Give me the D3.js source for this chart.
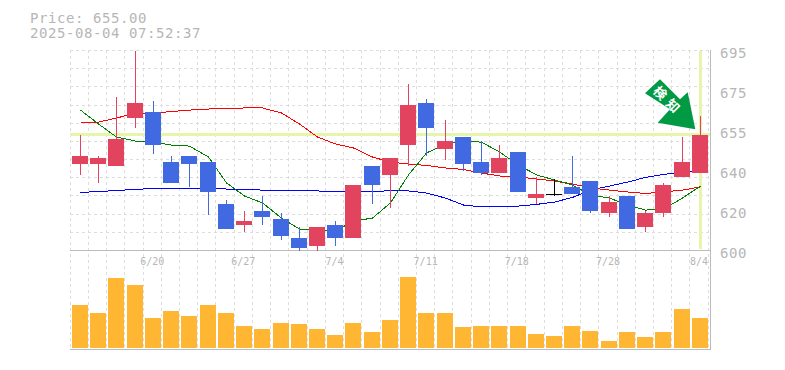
<!DOCTYPE html>
<html>
<head>
<meta charset="utf-8">
<script src="https://cdn.jsdelivr.net/npm/d3@7"></script>
<style>
body { margin: 0; background: #fff; }
svg { display: block; }
text { font-family: "DejaVu Sans Mono", monospace; fill: #b6b6b6; }
</style>
</head>
<body>
<script>
// data
const dates = ["6/16","6/17","6/18","6/19","6/20","6/23","6/24","6/25","6/26","6/27","6/30","7/1","7/2","7/3","7/4","7/7","7/8","7/9","7/10","7/11","7/14","7/15","7/16","7/17","7/18","7/22","7/23","7/24","7/25","7/28","7/29","7/30","7/31","8/1","8/4"];
const opens = [641,641,640,663,666,642,645,642,622,612,619,615,606,602,612,606,640,636,650,670,648,654,642,637,647,625,627,630,633,618,626,611,618,635,637];
const closes = [645,644,653,670,650,632,641,628,610,614,616,607,601,611,606,631,631,644,669,658,652,641,637,644,628,627,627,627,619,623,610,618,631,642,655];
const highs = [655,645,673,695,671,645,645,642,624,619,626,618,611,611,614,631,640,644,679,672,662,654,652,650,647,635,634,645,633,626,626,619,632,654,664];
const lows = [636,632,640,658,646,632,630,617,610,609,612,605,600,600,602,606,622,620,640,645,643,638,636,637,628,622,626,627,618,616,610,609,616,635,637];
const volumes = [4300,3500,7000,6300,3000,3700,3200,4300,3500,2200,1900,2500,2400,1900,1300,2500,1600,2800,7100,3500,3500,2100,2200,2200,2200,1400,1200,2200,1700,700,1600,1100,1600,3900,3000];
const maShort = [666.7,660.1,653.9,652.0,651.5,650.1,649.6,644.4,632.1,625.9,622.6,615.4,610.2,609.7,609.3,614.0,615.4,622.6,635.9,646.3,650.6,651.8,651.5,646.8,640.6,635.9,633.5,631.1,626.4,624.9,621.6,619.2,619.7,624.9,630.6];
const maMid = [661.0,661.0,662.9,665.3,665.3,666.0,666.7,667.2,667.5,667.7,667.7,665.3,660.1,653.9,650.6,648.7,644.4,642.0,641.1,640.4,639.2,638.5,636.8,635.4,634.9,634.0,633.0,631.6,629.7,628.7,627.8,627.1,627.8,628.7,630.2];
const maLong = [627.6,628.0,628.5,629.0,629.5,629.5,629.5,629.5,629.2,629.0,628.7,628.5,628.3,628.3,627.8,627.8,627.8,628.5,628.3,627.3,624.9,621.6,620.7,620.7,621.1,621.9,623.0,625.2,628.7,630.6,632.5,634.7,636.1,637.3,637.3];
const priceTicks = [600,619,638,657,676,695];
const priceLabels = ["600","620","640","655","675","695"];
const dateTicks = ["6/20","6/27","7/4","7/11","7/18","7/28","8/4"];
const lastPrice = 655;
const headerLines = ["Price: 655.00","2025-08-04 07:52:37"];

const svg = d3.select("body").append("svg")
  .attr("width", 785)
  .attr("height", 370);

const x = d3.scaleBand().domain(dates).range([70.15, 708.2]);
const y = d3.scaleLinear().domain([600, 695]).range([250.5, 50.5]);
const yVol = d3.scaleLinear().domain([0, 10000]).range([348, 248]);

const left = d => Math.round(x(d) + 1.87);   // bar left edge, 16px wide
const mid = d => left(d) + 8.5;

// grid
const grid = svg.append("g")
  .attr("stroke", "#ddd")
  .attr("stroke-dasharray", "3,3")
  .attr("shape-rendering", "crispEdges");
grid.selectAll(".v").data(dates.concat("end")).enter().append("line")
  .attr("x1", d => d == "end" ? 708.5 : Math.floor(x(d)) + 0.5)
  .attr("x2", d => d == "end" ? 708.5 : Math.floor(x(d)) + 0.5)
  .attr("y1", 50)
  .attr("y2", 350);
grid.selectAll(".h").data(d3.range(11)).enter().append("line")
  .attr("x1", 70)
  .attr("x2", 710)
  .attr("y1", i => Math.floor(50.5 + i * 200 / 11) + 0.5)
  .attr("y2", i => Math.floor(50.5 + i * 200 / 11) + 0.5);

// panel frame
const frame = svg.append("g").attr("stroke", "#bbb").attr("shape-rendering", "crispEdges");
frame.append("line").attr("x1", 70).attr("x2", 711).attr("y1", 250.5).attr("y2", 250.5);
frame.append("line").attr("x1", 70).attr("x2", 711).attr("y1", 349.5).attr("y2", 349.5);
frame.append("line").attr("x1", 710.5).attr("x2", 710.5).attr("y1", 50).attr("y2", 350);

// current price lines
const marks = svg.append("g").attr("stroke", "#e6f5aa").attr("shape-rendering", "crispEdges");
marks.append("line").attr("x1", 70).attr("x2", 710)
  .attr("y1", y(lastPrice)).attr("y2", y(lastPrice)).attr("stroke-width", 3);
marks.append("line").attr("x1", mid(dates[34])).attr("x2", mid(dates[34]))
  .attr("y1", 51).attr("y2", 249).attr("stroke-width", 3);

// moving averages, under the candles
const line = d3.line().x((d, i) => mid(dates[i])).y(d => y(d));
[[maLong, "#0000ff"], [maMid, "#ff0000"], [maShort, "#008000"]].forEach(([s, c]) => {
  svg.append("path")
    .attr("d", line(s))
    .attr("fill", "none")
    .attr("stroke", c)
    .attr("shape-rendering", "crispEdges");
});

// candles
const candleColor = i => closes[i] > opens[i] ? "#e2435f" : closes[i] < opens[i] ? "#4169e1" : "#000";
const candles = svg.append("g").attr("shape-rendering", "crispEdges");
candles.selectAll(".wick").data(dates).enter().append("line")
  .attr("x1", d => mid(d))
  .attr("x2", d => mid(d))
  .attr("y1", (d, i) => Math.round(y(highs[i])))
  .attr("y2", (d, i) => Math.round(y(lows[i])))
  .attr("stroke", (d, i) => candleColor(i));
candles.selectAll(".body").data(dates).enter().append("rect")
  .attr("x", d => left(d))
  .attr("y", (d, i) => Math.round(y(Math.max(opens[i], closes[i]))))
  .attr("width", 16)
  .attr("height", (d, i) => Math.max(1, Math.round(y(Math.min(opens[i], closes[i]))) - Math.round(y(Math.max(opens[i], closes[i])))))
  .attr("fill", (d, i) => candleColor(i));

// volume
svg.append("g").selectAll("rect").data(dates).enter().append("rect")
  .attr("x", d => left(d))
  .attr("y", (d, i) => yVol(volumes[i]))
  .attr("width", 16)
  .attr("height", (d, i) => yVol(0) - yVol(volumes[i]))
  .attr("fill", "#ffb733");

// axes
const axisP = svg.append("g")
  .attr("transform", "translate(710,0)")
  .call(d3.axisRight(y).tickValues(priceTicks).tickSize(0).tickPadding(10).tickFormat((d, i) => priceLabels[i]));
axisP.select(".domain").remove();
axisP.selectAll("text").style("font-size", "14px").style("letter-spacing", "0.57px").attr("dy", "6.5").attr("fill", null);

const axisD = svg.append("g")
  .attr("transform", "translate(0,250)")
  .call(d3.axisBottom(x).tickValues(dateTicks).tickSize(0).tickPadding(8));
axisD.select(".domain").remove();
axisD.selectAll("text").style("font-size", "10px").attr("fill", null);

// header
svg.selectAll(".head").data(headerLines).enter().append("text")
  .attr("x", 30)
  .attr("y", (d, i) => 23 + i * 15)
  .style("font-size", "14px")
  .style("letter-spacing", "0.57px")
  .text(d => d);

// signal arrow pointing at the last candle
const tipX = mid(dates[34]) - 5.2;
const tipY = y(lastPrice) - 5.4;
const arrow = svg.append("g").attr("transform", `translate(${tipX},${tipY})`);
arrow.append("path")
  .attr("d", "M0 0 L-37.6 -6.6 L-25.3 -20 L-50.3 -36 L-35.3 -50 L-15.3 -30 L-7.6 -37 Z")
  .attr("fill", "#009944");
arrow.append("text")
  .attr("transform", "translate(-27,-28) rotate(45)")
  .attr("text-anchor", "middle")
  .attr("dy", "0.35em")
  .style("font-family", "'Noto Sans CJK JP'")
  .style("font-weight", "bold")
  .style("font-size", "13px")
  .style("letter-spacing", "5px")
  .style("fill", "#fff")
  .text("検知");
</script>
</body>
</html>
